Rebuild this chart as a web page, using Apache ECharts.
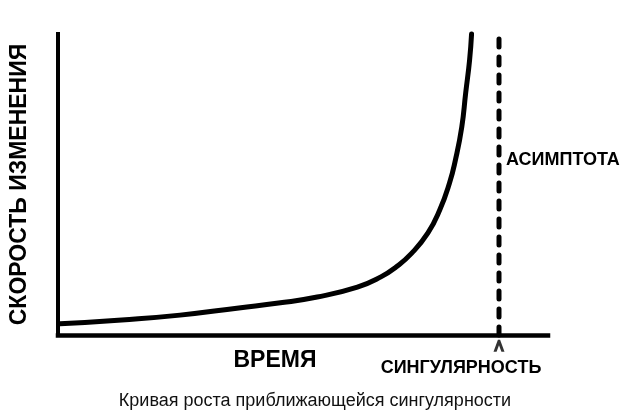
<!DOCTYPE html>
<html>
<head>
<meta charset="utf-8">
<script src="https://cdn.jsdelivr.net/npm/echarts@6/dist/echarts.min.js"></script>
<style>html,body{margin:0;padding:0;background:#fff;}#c{width:620px;height:413px;}</style>
</head>
<body>
<div id="c"></div>
<script>
// Data (time 0..100, rate 0..100)
const curveTime = [0.4, 13.0, 24.9, 36.9, 45.0, 52.9, 61.1, 65.9, 69.0, 72.2, 75.5, 77.9, 79.9, 81.1, 82.4, 83.2, 84.0, 84.4];
const curveRate = [3.7, 5.0, 6.6, 9.0, 10.6, 12.6, 15.9, 19.3, 22.6, 27.2, 33.9, 41.5, 50.5, 58.1, 69.1, 80.4, 91.4, 100];
const asymptoteTime = 90;
const asymptoteRange = [0, 100];
const arrowRate = -3.6;

const labels = {
  yName: 'СКОРОСТЬ ИЗМЕНЕНИЯ',
  xName: 'ВРЕМЯ',
  singularity: 'СИНГУЛЯРНОСТЬ',
  asymptote: 'АСИМПТОТА',
  caption: 'Кривая роста приближающейся сингулярности'
};

const chart = echarts.init(document.getElementById('c'));
const font = '"Liberation Sans", Arial, sans-serif';
chart.setOption({
  animation: false,
  backgroundColor: '#fff',
  grid: { left: 55, right: 72, top: 34, bottom: 78 },
  xAxis: {
    type: 'value', min: 0, max: 100,
    axisLine: { show: true, onZero: false, lineStyle: { color: '#000', width: 4.5, cap: 'square' } },
    axisTick: { show: false }, axisLabel: { show: false }, splitLine: { show: false }
  },
  yAxis: {
    type: 'value', min: 0, max: 100,
    name: labels.yName, nameLocation: 'middle', nameRotate: 90, nameGap: 27,
    nameTextStyle: { fontFamily: font, fontWeight: 'bold', fontSize: 23, color: '#000' },
    axisLine: { show: true, lineStyle: { color: '#000', width: 4, cap: 'square' } },
    axisTick: { show: false }, axisLabel: { show: false }, splitLine: { show: false }
  },
  series: [
    {
      type: 'line', smooth: true, symbol: 'none', clip: false,
      data: curveTime.map((t, i) => [t, curveRate[i]]),
      lineStyle: { color: '#000', width: 5, cap: 'round' }
    },
    {
      type: 'line', symbol: 'none', clip: false,
      data: asymptoteRange.map(v => [asymptoteTime, v]),
      lineStyle: { color: '#000', width: 5, type: [8, 10], cap: 'round' }
    },
    {
      type: 'scatter', clip: false,
      data: [[asymptoteTime, arrowRate]],
      symbol: 'path://M0,12 L4,0 L6,0 L10,12 L7.2,12 L5,5.5 L2.8,12 Z',
      symbolSize: [11, 12],
      itemStyle: { color: '#000' }
    }
  ],
  graphic: [
    { type: 'text', x: 275, y: 361, style: { text: labels.xName, fontFamily: font, fontWeight: 'bold', fontSize: 23, fill: '#000', textAlign: 'center', textVerticalAlign: 'middle' } },
    { type: 'text', x: 461, y: 368, style: { text: labels.singularity, fontFamily: font, fontWeight: 'bold', fontSize: 18, fill: '#000', textAlign: 'center', textVerticalAlign: 'middle' } },
    { type: 'text', x: 506, y: 160, style: { text: labels.asymptote, fontFamily: font, fontWeight: 'bold', fontSize: 18, fill: '#000', textAlign: 'left', textVerticalAlign: 'middle' } },
    { type: 'text', x: 315, y: 401, style: { text: labels.caption, fontFamily: font, fontSize: 18, fill: '#111', textAlign: 'center', textVerticalAlign: 'middle' } }
  ]
});
</script>
</body>
</html>
